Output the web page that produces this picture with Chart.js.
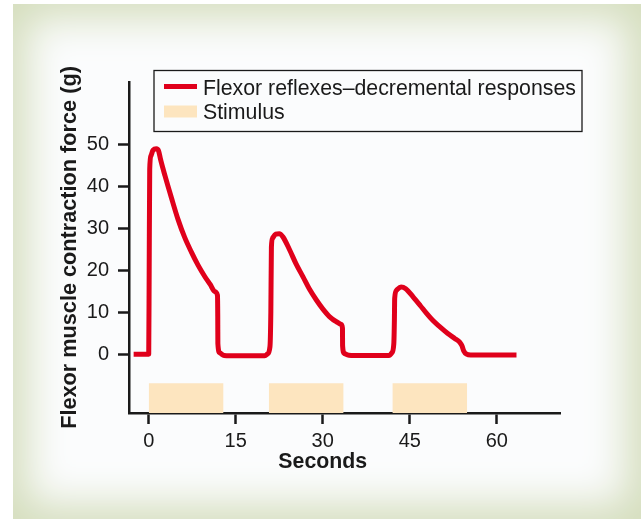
<!DOCTYPE html>
<html>
<head>
<meta charset="utf-8">
<title>Flexor reflexes – decremental responses</title>
<script src="https://cdn.jsdelivr.net/npm/chart.js@4.4.0/dist/chart.umd.min.js"></script>
<style>
  html, body { margin: 0; padding: 0; background: #fff; }
  #frame {
    position: absolute; left: 13px; top: 4px; width: 628px; height: 515px;
    background: #fbfcfd;
    box-shadow: inset 0 0 40px 14px #d4ddbc;
  }
  #chart { position: absolute; left: 0; top: 0; }
</style>
</head>
<body>
<div id="frame"></div>
<canvas id="chart" width="641" height="519"></canvas>
<script>
// Force trace (seconds, grams)
const secs = [-2.6, 0.0, 0.08, 0.17, 0.4, 0.75, 1.3, 1.7, 2.05, 2.8, 3.9, 5.05, 6.2, 7.36, 8.5, 9.66, 10.6, 11.4, 11.85,
    11.9, 11.92, 12.25, 13.0, 14.0, 20.0, 20.5, 20.9, 21.05, 21.15, 21.35, 21.9, 22.5, 23.15, 24.3, 25.4, 26.6,
    27.7, 28.9, 30.0, 31.2, 32.3, 33.2, 33.4, 33.42, 33.7, 34.5, 35.5, 41.4, 41.9, 42.25, 42.35, 42.4, 42.7, 43.5,
    44.3, 45.6, 46.8, 47.9, 49.0, 50.2, 51.5, 52.8, 53.6, 54.0, 54.3, 54.8, 55.5, 63.4];
const force = [0, 0, 20, 44, 47.3, 48.6, 48.9, 48.4, 46.3, 42.5, 37.3, 32.1, 27.8, 24.3, 21.2, 18.5, 16.6, 14.9, 14.0,
    9, 2.5, 0.3, -0.3, -0.35, -0.35, 0.1, 1.8, 10, 25.5, 27.6, 28.6, 28.7, 27.9, 24.8, 21.5, 18.4,
    15.5, 12.9, 10.8, 8.9, 7.8, 7.1, 6.2, 2, 0.2, -0.25, -0.3, -0.3, 0.3, 2.5, 8, 13.3, 15.2, 16.0,
    15.6, 13.6, 11.6, 9.7, 8.0, 6.5, 5.0, 3.7, 2.9, 2.0, 0.8, 0, -0.2, -0.2];

// Stimulus periods (seconds)
const stimOn = [0, 20.7, 42.0];
const stimOff = [12.9, 33.6, 54.9];

const xTicks = [0, 15, 30, 45, 60];
const yTicks = [0, 10, 20, 30, 40, 50];

const seriesLabel = 'Flexor reflexes–decremental responses';
const stimLabel = 'Stimulus';
const xTitle = 'Seconds';
const yTitle = 'Flexor muscle contraction force (g)';

const RED = '#e0001b';
const PEACH = '#fde5bf';
const INK = '#1a1a1a';
const FONT = '"Liberation Sans", Arial, Helvetica, sans-serif';
const STIM_LEVEL = -6.9; // top edge of the stimulus band

const forcePoints = secs.map((s, i) => ({ x: s, y: force[i] }));

// one filled block per stimulus, broken apart by a null point
const stimPoints = [];
stimOn.forEach((s, i) => {
    stimPoints.push({ x: s, y: STIM_LEVEL }, { x: stimOff[i], y: STIM_LEVEL }, { x: stimOff[i], y: null });
});

// Legend box and x title, drawn on top of the chart
const legendBox = {
    id: 'legendBox',
    afterDraw(chart) {
        const { ctx, chartArea, scales } = chart;
        const ds = chart.data.datasets;
        const left = chartArea.left + 25, top = chartArea.top - 11.5;

        ctx.save();
        ctx.strokeStyle = INK;
        ctx.lineWidth = 1.3;
        ctx.strokeRect(left, top, 428, 61);

        // line swatch
        ctx.fillStyle = ds[0].borderColor;
        ctx.fillRect(left + 10, top + 13.5, 33, 5);
        // stimulus swatch
        ctx.fillStyle = ds[1].backgroundColor;
        ctx.fillRect(left + 10, top + 35, 33, 12);

        ctx.fillStyle = INK;
        ctx.font = '21.3px ' + FONT;
        ctx.textBaseline = 'alphabetic';
        ctx.fillText(ds[0].label, left + 49, top + 24.5);
        ctx.fillText(ds[1].label, left + 49, top + 48.5);

        // x axis title, centred under the 30 s tick
        ctx.font = 'bold 21.3px ' + FONT;
        ctx.textAlign = 'center';
        ctx.fillText(xTitle, scales.x.getPixelForValue(30), chartArea.bottom + 55);
        ctx.restore();
    }
};

const ctx = document.getElementById('chart').getContext('2d');
new Chart(ctx, {
    type: 'line',
    data: {
        datasets: [{
            label: seriesLabel,
            data: forcePoints,
            borderColor: RED,
            borderWidth: 5,
            borderCapStyle: 'butt',
            borderJoinStyle: 'round',
            cubicInterpolationMode: 'monotone',
            pointRadius: 0,
            fill: false,
            order: 1
        }, {
            label: stimLabel,
            data: stimPoints,
            borderWidth: 0,
            borderColor: 'rgba(0,0,0,0)',
            backgroundColor: PEACH,
            pointRadius: 0,
            tension: 0,
            spanGaps: false,
            fill: 'start',
            order: 2
        }]
    },
    options: {
        responsive: false,
        animation: false,
        layout: { padding: { left: 50, top: 82, right: 81, bottom: 0 } },
        plugins: {
            legend: { display: false },
            tooltip: { enabled: false }
        },
        scales: {
            x: {
                type: 'linear',
                min: -3.4,
                max: 70.9,
                afterBuildTicks: (scale) => { scale.ticks = xTicks.map(v => ({ value: v })); },
                afterFit: (scale) => { scale.height = 106; },
                border: { display: true, color: INK, width: 2.5 },
                grid: { drawOnChartArea: false, drawTicks: true, tickLength: 11, tickWidth: 2.5, tickColor: INK },
                ticks: { color: INK, font: { family: FONT, size: 20 }, padding: 5, maxRotation: 0 }
            },
            y: {
                type: 'linear',
                min: -14,
                max: 64.8,
                afterBuildTicks: (scale) => { scale.ticks = yTicks.map(v => ({ value: v })); },
                afterFit: (scale) => { scale.width = 79; },
                border: { display: true, color: INK, width: 2.5 },
                grid: { drawOnChartArea: false, drawTicks: true, tickLength: 11, tickWidth: 2.5, tickColor: INK },
                ticks: { color: INK, font: { family: FONT, size: 20 }, padding: 9 },
                title: {
                    display: true,
                    text: yTitle,
                    color: INK,
                    font: { family: FONT, size: 21.7, weight: 'bold' },
                    padding: { top: 7.5, bottom: 0 }
                }
            }
        }
    },
    plugins: [legendBox]
});
</script>
</body>
</html>
